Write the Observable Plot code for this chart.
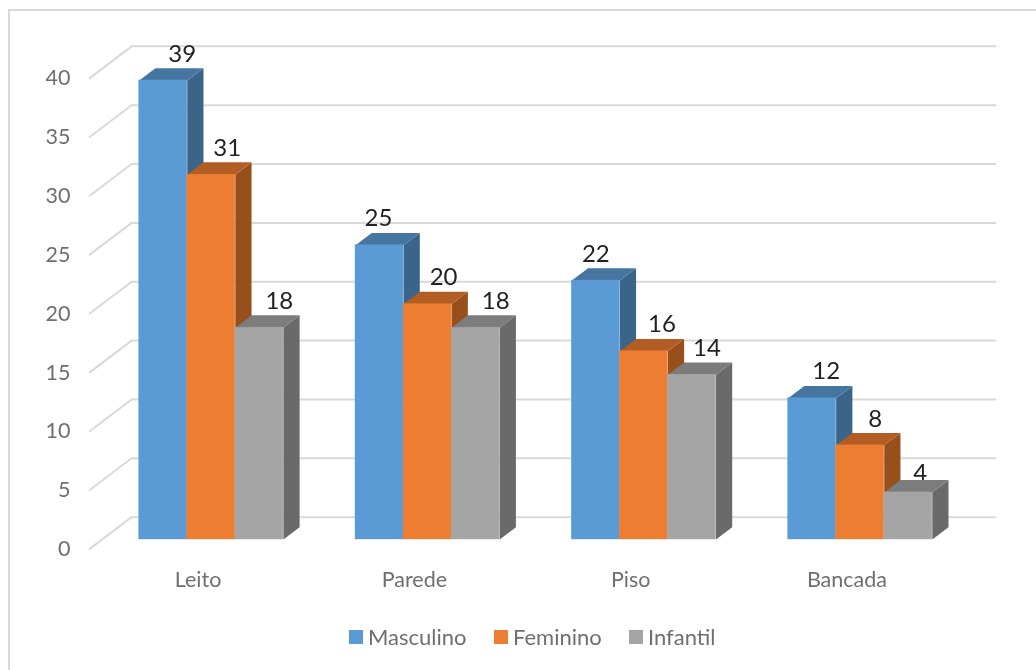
<!DOCTYPE html>
<html><head><meta charset="utf-8">
<script src="https://cdn.jsdelivr.net/npm/d3@7"></script>
<script src="https://cdn.jsdelivr.net/npm/@observablehq/plot@0.6"></script>
<style>
html,body{margin:0;padding:0;background:#fff;width:1036px;height:670px;overflow:hidden}
#frame{position:absolute;left:8px;top:9px;right:0;bottom:0;border-left:2.5px solid #d9d9d9;border-top:2.5px solid #d9d9d9;box-sizing:border-box}
#chart{position:absolute;left:0;top:0;filter:blur(0.35px)}
#chart svg{background:transparent}
#legend{position:absolute;left:0;top:620px;width:1036px;height:36px;font:22px Lato,sans-serif;color:#6f6f6f;filter:blur(0.35px)}
#legend .k{display:inline-flex;align-items:center;position:absolute;top:3px}
#legend i{display:inline-block;width:14px;height:14px;margin-right:5px}
</style></head><body>
<div id="frame"></div><div id="chart"></div><div id="legend"></div>
<script>
const categories = ["Leito","Parede","Piso","Bancada"];
const series = ["Masculino","Feminino","Infantil"];
const masculino = [39,25,22,12];
const feminino = [31,20,16,8];
const infantil = [18,18,14,4];
const yTicks = [0,5,10,15,20,25,30,35,40];
const frontColors = ["#5b9bd5","#ed7d31","#a5a5a5"];
const topColors = ["#4675a0","#b25d23","#7c7c7c"];
const sideColors = ["#3b6489","#97501c","#6a6a6a"];
const values = [masculino,feminino,infantil];
// hand-placed data label nudges of the source chart (px), per series, per category
const labelNudge = [[19,-1,0,14],[16,16,18,15],[20,20,15,12]];

// depth of the pseudo-3D projection, in scale units
const barW = 0.2222, barDx = 0.075, barDy = 1.045;
const wallX0 = -0.035, wallX1 = 3.965, floorDx = 0.194, floorDy = 2.7, wallDy = 1.9;

const bars = [];
categories.forEach((c,i)=>series.forEach((s,j)=>{
  const x1 = i + j*barW, x2 = x1 + barW, v = values[j][i];
  bars.push({c,s,i,j,x1,x2,v,id:`${i}-${j}`});
}));
const poly = (fn)=>bars.flatMap(b=>fn(b).map(([x,y])=>({x,y,id:b.id,j:b.j})));
const tops = poly(b=>[[b.x1,b.v],[b.x1+barDx,b.v+barDy],[b.x2+barDx,b.v+barDy],[b.x2,b.v]]);
const sides = poly(b=>[[b.x2,0],[b.x2+barDx,barDy],[b.x2+barDx,b.v+barDy],[b.x2,b.v]]);
const diag = yTicks.flatMap(t=>[{x:wallX0-floorDx,y:t+wallDy-floorDy,t},{x:wallX0,y:t+wallDy,t}]);
const pxPerUnit = 216.3;
const labelX = b=>b.x1+barW/2+labelNudge[b.j][b.i]/pxPerUnit;

const plot = Plot.plot({
  width:1036,height:620,
  marginLeft:70,marginRight:0,marginTop:0,marginBottom:49,
  x:{type:"linear",domain:[0,4],range:[138.7,1003.9],axis:null},
  y:{type:"linear",domain:[0,40],range:[539,68.2],axis:null},
  color:{type:"identity"},
  style:{background:"transparent",fontFamily:"Lato, sans-serif"},
  marks:[
    Plot.ruleY(yTicks,{y:d=>d+wallDy,x1:wallX0,x2:wallX1,stroke:"#d9d9d9",strokeWidth:2}),
    Plot.line(diag,{x:"x",y:"y",z:"t",stroke:"#d9d9d9",strokeWidth:2,curve:"linear"}),
    Plot.axisY({ticks:yTicks,anchor:"left",tickSize:0,tickPadding:0,label:null,dy:9.7,fontSize:21.5,fill:"#6f6f6f"}),
    Plot.axisX({ticks:categories.map((c,i)=>i+0.272),anchor:"bottom",tickSize:0,tickPadding:0,label:null,tickFormat:d=>categories[Math.floor(d)],fontSize:21.5,fill:"#6f6f6f"}),
    Plot.text(bars.filter(b=>b.v>4),{x:labelX,y:"v",text:b=>String(b.v),dy:-26.5,fontSize:24,fill:"#222"}),
    Plot.text(bars.filter(b=>b.v<=4),{x:labelX,y:"v",text:b=>String(b.v),dy:-19,fontSize:24,fill:"#222"}),
    Plot.line(sides,{x:"x",y:"y",z:"id",fill:d=>sideColors[d.j],stroke:null,curve:"linear"}),
    Plot.line(tops,{x:"x",y:"y",z:"id",fill:d=>topColors[d.j],stroke:null,curve:"linear"}),
    Plot.rect(bars,{x1:"x1",x2:"x2",y1:0,y2:"v",fill:b=>frontColors[b.j],stroke:b=>frontColors[b.j],strokeWidth:0.4})
  ]
});
document.getElementById("chart").appendChild(plot);

const legendX = [349,494,629];
const leg = document.getElementById("legend");
series.forEach((s,j)=>{
  const k=document.createElement("span");k.className="k";k.style.left=legendX[j]+"px";
  k.innerHTML=`<i style="background:${frontColors[j]}"></i>${s}`;
  leg.appendChild(k);
});
</script></body></html>
